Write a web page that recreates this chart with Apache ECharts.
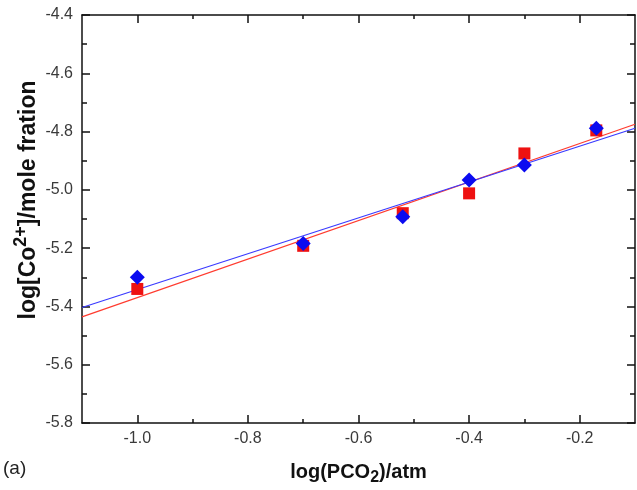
<!DOCTYPE html>
<html>
<head>
<meta charset="utf-8">
<script src="https://cdn.jsdelivr.net/npm/echarts@6/dist/echarts.min.js"></script>
<style>
  html, body { margin: 0; padding: 0; background: #fff; }
  #chart { width: 637px; height: 490px; }
</style>
</head>
<body>
<div id="chart"></div>
<script>
// measured points
const pco2 = [-1.0, -0.7, -0.52, -0.4, -0.3, -0.17]
const coRed = [-5.34, -5.192, -5.08, -5.012, -4.875, -4.796]
const coBlue = [-5.30, -5.184, -5.092, -4.966, -4.915, -4.789]

// fitted lines, read at the axis ends
const fitX = [-1.1, -0.1]
const fitRed = [-5.436, -4.775]
const fitBlue = [-5.4035, -4.7885]

const majorX = [-1.0, -0.8, -0.6, -0.4, -0.2]
const minorX = [-0.9, -0.7, -0.5, -0.3]

const font = 'Liberation Sans, Arial, Helvetica, sans-serif'
const ink = '#111'

const pairs = (xs, ys) => xs.map((x, i) => [x, ys[i]])

const chart = echarts.init(document.getElementById('chart'))

function xAxisOf(position, ticks, len, main) {
    return {
        type: 'value',
        position,
        min: -1.1,
        max: -0.1,
        axisLine: {show: main, lineStyle: {color: ink, width: 1.5}},
        axisTick: {show: true, inside: true, length: len, customValues: ticks,
                   lineStyle: {color: ink, width: 1.5}},
        axisLabel: {show: main && position == 'bottom', customValues: ticks,
                    formatter: v => v.toFixed(1), fontFamily: font, fontSize: 16,
                    color: '#3a3a3a', margin: 8},
        splitLine: {show: false}
    }
}

function yAxisOf(position) {
    return {
        type: 'value',
        position,
        min: -5.8,
        max: -4.4,
        interval: 0.2,
        axisLine: {show: true, lineStyle: {color: ink, width: 1.5}},
        axisTick: {show: true, inside: true, length: 8, lineStyle: {color: ink, width: 1.5}},
        minorTick: {show: true, splitNumber: 2, length: 5, lineStyle: {color: ink, width: 1.5}},
        axisLabel: {show: position == 'left', formatter: v => v.toFixed(1),
                    fontFamily: font, fontSize: 16, color: '#3a3a3a', margin: 9},
        splitLine: {show: false}
    }
}

const xBottom = xAxisOf('bottom', majorX, 8, true)
xBottom.name = '{b|log(PCO}{sub|2}{b|)/atm}'
xBottom.nameLocation = 'middle'
xBottom.nameGap = 35
xBottom.nameMoveOverlap = false
xBottom.nameTextStyle = {
    rich: {
        b: {fontFamily: font, fontSize: 20, fontWeight: 'bold', color: '#111'},
        sub: {fontFamily: font, fontSize: 16, fontWeight: 'bold', color: '#111', padding: [12, 0, 0, 0]}
    }
}

const yLeft = yAxisOf('left')
yLeft.name = '{b|log[Co}{sup|2+}{b|]/mole fration}'
yLeft.nameLocation = 'middle'
yLeft.nameRotate = 90
yLeft.nameGap = 37
yLeft.nameMoveOverlap = false
yLeft.nameTextStyle = {
    padding: [0, 0, 0, 38],
    rich: {
        b: {fontFamily: font, fontSize: 23, fontWeight: 'bold', color: '#111'},
        sup: {fontFamily: font, fontSize: 18, fontWeight: 'bold', color: '#111', padding: [0, 0, 15, 0]}
    }
}

const option = {
    animation: false,
    backgroundColor: '#fff',
    grid: {left: 82, right: 2, top: 15, bottom: 67, outerBoundsMode: 'none'},
    xAxis: [
        xBottom,
        xAxisOf('bottom', minorX, 4, false),
        xAxisOf('top', majorX, 8, true),
        xAxisOf('top', minorX, 4, false)
    ],
    yAxis: [yLeft, yAxisOf('right')],
    graphic: [{
        type: 'text', left: 3, top: 459,
        style: {text: '(a)', fontFamily: font, fontSize: 19, fill: '#222'}
    }],
    series: [
        {
            type: 'line', data: pairs(fitX, fitRed), symbol: 'none',
            lineStyle: {color: '#ff3b2f', width: 1.2}, z: 2
        },
        {
            type: 'line', data: pairs(fitX, fitBlue), symbol: 'none',
            lineStyle: {color: '#3a3aff', width: 1.2}, z: 2
        },
        {
            type: 'scatter', data: pairs(pco2, coRed), symbol: 'rect', symbolSize: 12,
            itemStyle: {color: '#ee1111', opacity: 1}, z: 3
        },
        {
            type: 'scatter', data: pairs(pco2, coBlue), symbol: 'diamond', symbolSize: 15,
            itemStyle: {color: '#0b0bf0', opacity: 1}, z: 4
        }
    ]
}

chart.setOption(option)
</script>
</body>
</html>
